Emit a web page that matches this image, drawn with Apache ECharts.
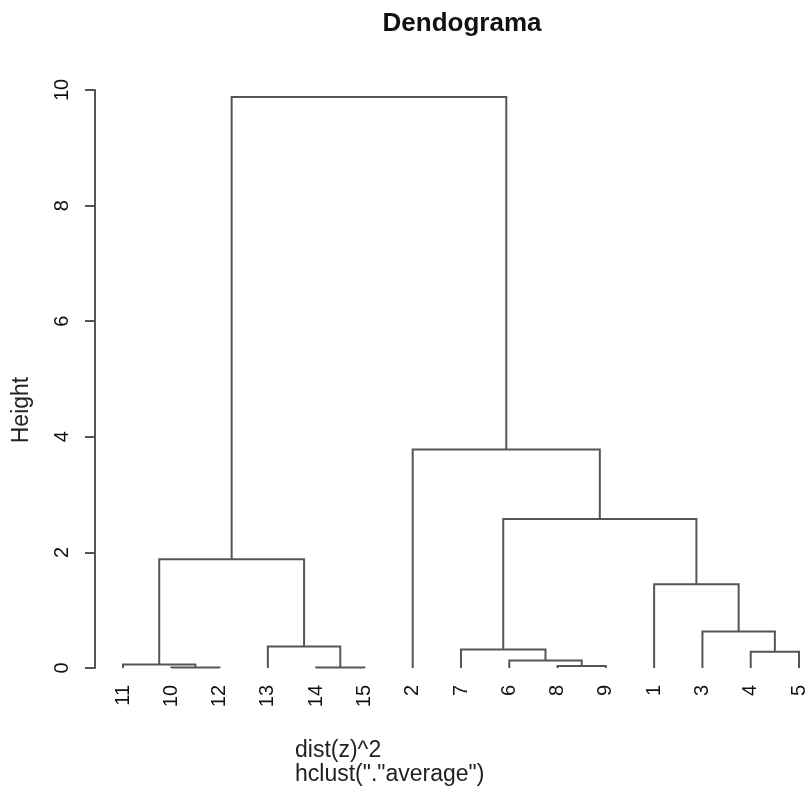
<!DOCTYPE html>
<html>
<head>
<meta charset="utf-8">
<script src="https://cdn.jsdelivr.net/npm/echarts@6/dist/echarts.min.js"></script>
<style>html,body{margin:0;padding:0;background:#fff;}#chart{width:809px;height:795px;}</style>
</head>
<body>
<div id="chart"></div>
<script>
// Leaf order along the x axis (labels)
const leafLabels = ['11','10','12','13','14','15','2','7','6','8','9','1','3','4','5'];
// Merge steps (R hclust style): negative = leaf label, positive = earlier merge step (1-based)
const mergeA = [-10, -14, -8, -11, -6, -4, -7, -13, -3, -1, 4, 7, -2, 11];
const mergeB = [-12, -15, -9, 1, 3, -5, 5, 2, 6, 9, 8, 10, 12, 13];
const mergeHeight = [0.01, 0.01, 0.035, 0.06, 0.13, 0.28, 0.32, 0.37, 0.63, 1.45, 1.88, 2.58, 3.78, 9.88];
const yTicks = [0, 2, 4, 6, 8, 10];

const titleText = 'Dendograma';
const yName = 'Height';
const subLines = ['dist(z)^2', 'hclust("."average")'];

// build segments from merge table
const nodeX = [], nodeH = [];
function posOf(ref) {
  if (ref < 0) return { x: leafLabels.indexOf(String(-ref)) + 1, h: 0 };
  return { x: nodeX[ref - 1], h: nodeH[ref - 1] };
}
const segData = [];
for (let i = 0; i < mergeA.length; i++) {
  const a = posOf(mergeA[i]), b = posOf(mergeB[i]);
  const l = a.x <= b.x ? a : b, r = a.x <= b.x ? b : a;
  segData.push([l.x, r.x, l.h, r.h, mergeHeight[i]]);
  nodeX.push((a.x + b.x) / 2);
  nodeH.push(mergeHeight[i]);
}

const FONT = 'Liberation Sans, Arial, sans-serif';
const LINE = '#555555';
const chart = echarts.init(document.getElementById('chart'));
chart.setOption({
  animation: false,
  backgroundColor: '#ffffff',
  title: {
    text: titleText, left: 462, top: 11, textAlign: 'center', padding: 0,
    textStyle: { fontFamily: FONT, fontSize: 26, fontWeight: 'bold', color: '#111' }
  },
  grid: { left: 123, right: 5, top: 90, bottom: 127 },
  xAxis: {
    type: 'value', min: 1, max: 15, interval: 1,
    axisLine: { show: false }, axisTick: { show: false }, splitLine: { show: false },
    axisLabel: {
      rotate: 90, margin: 17, fontFamily: FONT, fontSize: 20, color: '#111',
      formatter: v => leafLabels[Math.round(v) - 1] || ''
    }
  },
  yAxis: {
    type: 'value', min: yTicks[0], max: yTicks[yTicks.length - 1], interval: 2, offset: 28,
    axisLine: { show: true, lineStyle: { color: LINE, width: 2 } },
    axisTick: { show: true, length: 10, inside: false, lineStyle: { color: LINE, width: 2 } },
    splitLine: { show: false },
    axisLabel: { rotate: 90, margin: 23, fontFamily: FONT, fontSize: 20, color: '#111' }
  },
  graphic: [
    { type: 'text', x: 22, y: 410, rotation: Math.PI / 2,
      style: { text: yName, font: '23px ' + FONT, fill: '#222', textAlign: 'center', textVerticalAlign: 'middle' } },
    { type: 'text', x: 295, y: 751,
      style: { text: subLines[0], font: '23px ' + FONT, fill: '#222', textAlign: 'left', textVerticalAlign: 'middle' } },
    { type: 'text', x: 295, y: 775,
      style: { text: subLines[1], font: '23px ' + FONT, fill: '#222', textAlign: 'left', textVerticalAlign: 'middle' } }
  ],
  series: [{
    type: 'custom',
    data: segData,
    encode: { x: [0, 1], y: [2, 3, 4] },
    clip: false,
    renderItem: function (params, api) {
      const xl = api.value(0), xr = api.value(1), hl = api.value(2), hr = api.value(3), h = api.value(4);
      const pts = [api.coord([xl, hl]), api.coord([xl, h]), api.coord([xr, h]), api.coord([xr, hr])];
      return { type: 'polyline', shape: { points: pts }, style: { stroke: LINE, lineWidth: 2, fill: null } };
    }
  }]
});
</script>
</body>
</html>
